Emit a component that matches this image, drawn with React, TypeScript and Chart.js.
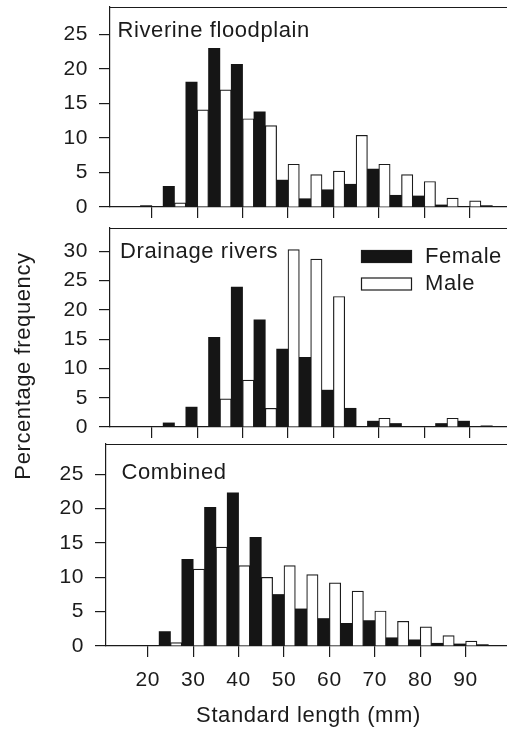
import { useEffect, useRef } from "react";
import { Chart, registerables } from "chart.js";

Chart.register(...registerables);

// ---- data ----
const bins = [20, 25, 30, 35, 40, 45, 50, 55, 60, 65, 70, 75, 80, 85, 90, 95];
const xTickValues = [20, 30, 40, 50, 60, 70, 80, 90];
const yTicksShort = [0, 5, 10, 15, 20, 25];
const yTicksTall = [0, 5, 10, 15, 20, 25, 30];

const floodFemale = [0.2, 3.0, 18.1, 23.0, 20.7, 13.8, 3.9, 1.2, 2.5, 3.3, 5.5, 1.7, 1.6, 0.3, 0, 0.2];
const floodMale = [0, 0.6, 14.1, 17.0, 12.8, 11.8, 6.2, 4.7, 5.2, 10.4, 6.2, 4.7, 3.7, 1.3, 0.9, 0];

const drainFemale = [0, 0.7, 3.4, 15.3, 23.9, 18.3, 13.3, 11.9, 6.3, 3.2, 1.0, 0.6, 0, 0.6, 1.0, 0.2];
const drainMale = [0, 0, 0, 4.8, 8.0, 3.2, 30.3, 28.7, 22.3, 0, 1.5, 0, 0, 1.5, 0, 0];

const combFemale = [0, 2.1, 12.6, 20.2, 22.3, 15.8, 7.5, 5.4, 4.0, 3.3, 3.7, 1.2, 0.9, 0.4, 0.3, 0.2];
const combMale = [0, 0.5, 11.2, 14.4, 11.7, 10.0, 11.7, 10.4, 9.2, 8.0, 5.1, 3.6, 2.8, 1.5, 0.7, 0];

const seriesLabels = ["Female", "Male"];
const panelTitles = ["Riverine floodplain", "Drainage rivers", "Combined"];
const yAxisTitle = "Percentage frequency";
const xAxisTitle = "Standard length (mm)";

// ---- style ----
const FONT = "'Liberation Sans', Arial, Helvetica, sans-serif";
const INK = "#1b1b1b";
const FEMALE_FILL = "#151515";
const SPACING = "0.6px";
const W = 520;
const H = 730;

type Panel = {
  title: string;
  female: number[];
  male: number[];
  yMax: number;
  yTicks: number[];
  top: number;
  bottom: number;
  left: number;
  showX: boolean;
  legend: boolean;
  yTitle: boolean;
  titleDx: number;
  titleBase: number;
};

const panels: Panel[] = [
  { title: panelTitles[0], female: floodFemale, male: floodMale, yMax: 29, yTicks: yTicksShort, top: 7, bottom: 207, left: 0, showX: false, legend: false, yTitle: false, titleDx: 7.5, titleBase: 37 },
  { title: panelTitles[1], female: drainFemale, male: drainMale, yMax: 34, yTicks: yTicksTall, top: 228, bottom: 427, left: 0, showX: false, legend: true, yTitle: true, titleDx: 10, titleBase: 258 },
  { title: panelTitles[2], female: combFemale, male: combMale, yMax: 29.4, yTicks: yTicksShort, top: 444, bottom: 646, left: -4, showX: true, legend: false, yTitle: false, titleDx: 15.5, titleBase: 479 },
];

function decor(p: Panel) {
  return {
    id: "decor",
    beforeDraw(chart: any) {
      (chart.ctx as any).letterSpacing = SPACING;
    },
    afterDraw(chart: any) {
      const ctx = chart.ctx as CanvasRenderingContext2D;
      const a = chart.chartArea;
      ctx.save();
      (ctx as any).letterSpacing = SPACING;
      ctx.strokeStyle = INK;
      ctx.lineWidth = 1.2;
      ctx.beginPath();
      const t = Math.round(a.top) + 0.5;
      ctx.moveTo(a.left, t);
      ctx.lineTo(a.right, t);
      ctx.lineTo(a.right, a.bottom);
      ctx.stroke();

      ctx.fillStyle = INK;
      ctx.font = `22px ${FONT}`;
      ctx.textAlign = "left";
      ctx.textBaseline = "alphabetic";
      ctx.fillText(p.title, a.left + p.titleDx, p.titleBase);

      if (p.legend) {
        const ds = chart.data.datasets;
        const rows = [256.5, 284];
        ds.forEach((d: any, i: number) => {
          const cy = rows[i];
          const bx = 361, bw = 51, bh = 13;
          ctx.fillStyle = d.backgroundColor;
          ctx.fillRect(bx, cy - bh / 2, bw, bh);
          ctx.strokeStyle = INK;
          ctx.lineWidth = 1.2;
          ctx.strokeRect(bx + 0.5, cy - bh / 2 + 0.5, bw - 1, bh - 1);
          ctx.fillStyle = INK;
          ctx.font = `22px ${FONT}`;
          ctx.textBaseline = "middle";
          ctx.fillText(d.label, 425, cy);
        });
      }

      if (p.yTitle) {
        ctx.translate(24, 366);
        ctx.rotate(-Math.PI / 2);
        ctx.fillStyle = INK;
        ctx.font = `22px ${FONT}`;
        ctx.textAlign = "center";
        ctx.textBaseline = "middle";
        ctx.fillText(yAxisTitle, 0, 0);
      }
      ctx.restore();
    },
  };
}

function makeConfig(p: Panel): any {
  return {
    type: "bar",
    data: {
      datasets: [
        {
          label: seriesLabels[0],
          data: bins.map((b, i) => ({ x: b, y: p.female[i] })),
          backgroundColor: FEMALE_FILL,
          borderColor: FEMALE_FILL,
          borderWidth: 0,
          categoryPercentage: 1,
          barPercentage: 1,
        },
        {
          label: seriesLabels[1],
          data: bins.map((b, i) => ({ x: b, y: p.male[i] })),
          backgroundColor: "#ffffff",
          borderColor: INK,
          borderWidth: 1.2,
          categoryPercentage: 1,
          barPercentage: 1,
        },
      ],
    },
    options: {
      animation: false,
      responsive: false,
      maintainAspectRatio: false,
      devicePixelRatio: 1,
      layout: { padding: { top: p.top, right: 5, left: 0, bottom: 0 } },
      plugins: { legend: { display: false }, tooltip: { enabled: false } },
      scales: {
        x: {
          type: "linear",
          min: 10.8,
          max: 100,
          offset: false,
          afterBuildTicks: (s: any) => {
            s.ticks = xTickValues.map((v) => ({ value: v }));
          },
          afterFit: (s: any) => {
            s.height = H - p.bottom;
            s.paddingLeft = 0;
            s.paddingRight = 0;
          },
          grid: { offset: false, drawOnChartArea: false, drawTicks: true, tickLength: 11, color: INK, lineWidth: 1.2 },
          border: { display: true, color: INK, width: 1.2 },
          ticks: {
            display: p.showX,
            autoSkip: false,
            maxRotation: 0,
            padding: 11,
            color: INK,
            font: { family: FONT, size: 21 },
            callback: (v: any) => String(v),
          },
          title: {
            display: p.showX,
            text: xAxisTitle,
            color: INK,
            font: { family: FONT, size: 22 },
            padding: { top: 0, bottom: 1 },
          },
        },
        y: {
          min: 0,
          max: p.yMax,
          afterBuildTicks: (s: any) => {
            s.ticks = p.yTicks.map((v) => ({ value: v }));
          },
          afterFit: (s: any) => {
            s.width = 110;
            s.paddingTop = 0;
            s.paddingBottom = 0;
          },
          grid: { drawOnChartArea: false, drawTicks: true, tickLength: 11, color: INK, lineWidth: 1.2 },
          border: { display: true, color: INK, width: 1.2 },
          ticks: {
            padding: 11,
            color: INK,
            font: { family: FONT, size: 21 },
            callback: (v: any) => String(v),
          },
        },
      },
    },
    plugins: [decor(p)],
  };
}

export default function App() {
  const refs = [useRef<HTMLCanvasElement>(null), useRef<HTMLCanvasElement>(null), useRef<HTMLCanvasElement>(null)];

  useEffect(() => {
    const charts = panels.map((p, i) => new Chart(refs[i].current as HTMLCanvasElement, makeConfig(p)));
    return () => charts.forEach((c) => c.destroy());
  }, []);

  return (
    <div style={{ position: "absolute", left: 0, top: 0, width: 507, height: 730, overflow: "hidden", background: "#fff" }}>
      {panels.map((p, i) => (
        <canvas
          key={i}
          ref={refs[i]}
          width={W}
          height={H}
          style={{ position: "absolute", left: p.left, top: 0, width: W, height: H }}
        />
      ))}
    </div>
  );
}
